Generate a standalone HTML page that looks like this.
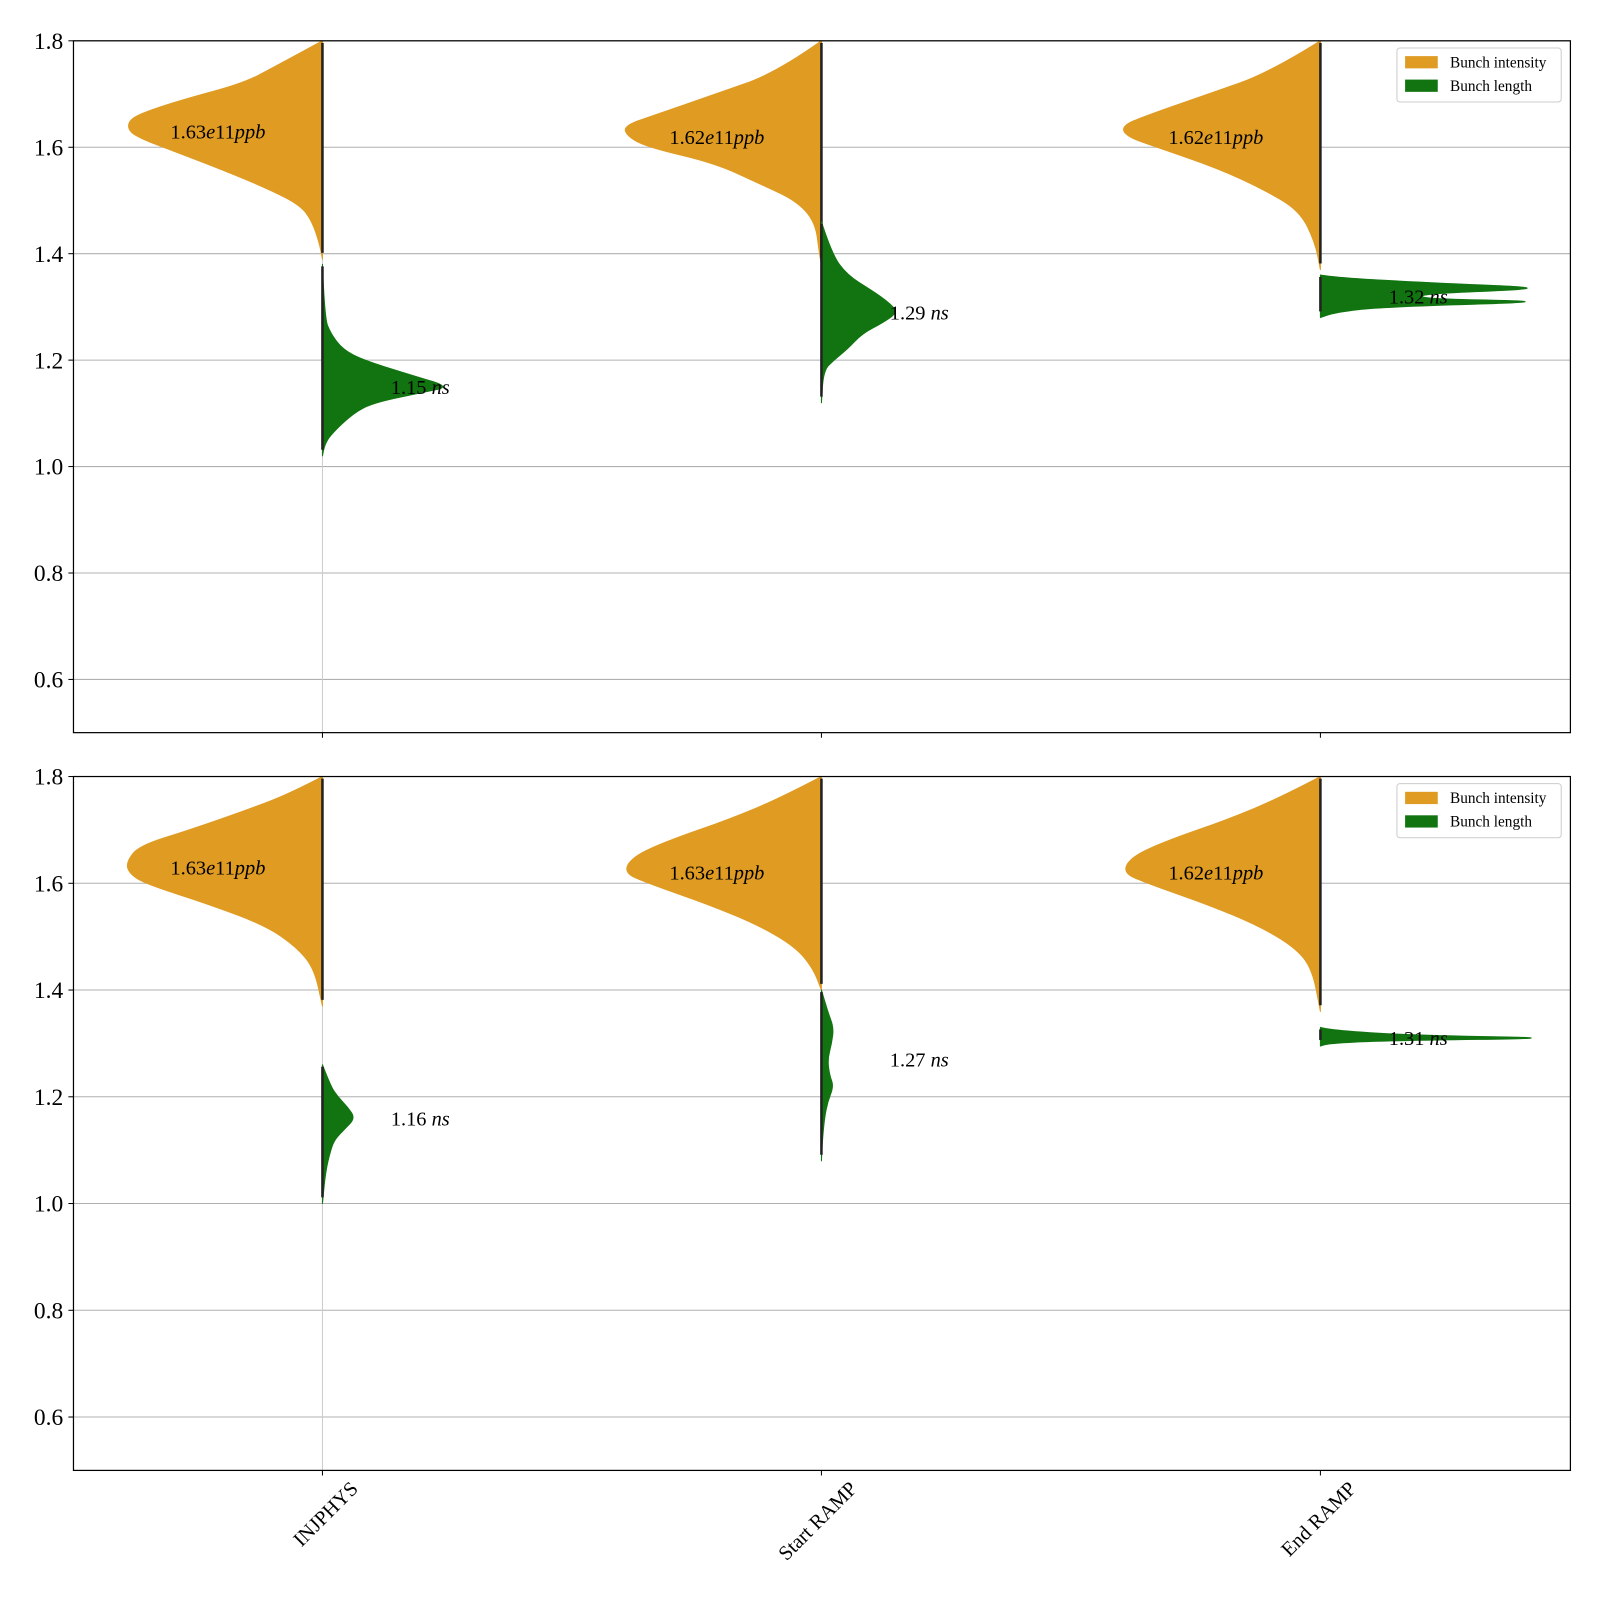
<!DOCTYPE html>
<html><head><meta charset="utf-8">
<style>
html,body{margin:0;padding:0;background:#fff;overflow:hidden;width:1600px;height:1600px;}
svg{display:block;font-family:"Liberation Serif",serif;}
</style></head>
<body>
<svg id="chart" width="1600" height="1600" viewBox="0 0 1568 1568" xmlns="http://www.w3.org/2000/svg"></svg>
<script>
const categories = ["INJPHYS", "Start RAMP", "End RAMP"];
const yTicks = [0.6, 0.8, 1.0, 1.2, 1.4, 1.6, 1.8];
// [value, relative width] profiles, panel 1
const p1Intensity = [
 [[1.8,0],[1.75,48],[1.72,78],[1.69,136],[1.665,176],[1.65,190],[1.63,190],[1.615,176],[1.6,156],[1.56,101],[1.52,51],[1.49,21],[1.46,10],[1.42,3],[1.39,0]],
 [[1.8,0],[1.74,44],[1.7,104],[1.66,164],[1.64,194],[1.62,190],[1.6,170],[1.57,104],[1.53,59],[1.5,25],[1.46,6],[1.4,2],[1.38,0]],
 [[1.8,0],[1.74,50],[1.7,110],[1.66,170],[1.64,195],[1.62,190],[1.6,160],[1.56,100],[1.52,55],[1.48,20],[1.42,5],[1.37,0]]
];
const p1Length = [
 [[1.38,0],[1.28,2],[1.25,8],[1.22,20],[1.2,40],[1.17,90],[1.15,125],[1.14,100],[1.12,50],[1.1,30],[1.06,8],[1.04,2],[1.02,0]],
 [[1.46,0],[1.4,10],[1.36,25],[1.33,50],[1.31,65],[1.29,75],[1.27,60],[1.25,40],[1.22,25],[1.2,12],[1.18,2],[1.12,0]],
 [[1.36,0],[1.355,15],[1.345,110],[1.335,235],[1.325,100],[1.315,100],[1.31,240],[1.3,60],[1.29,15],[1.28,0]]
];
const p2Intensity = [
 [[1.8,0],[1.77,30],[1.74,70],[1.7,130],[1.67,180],[1.64,192],[1.62,190],[1.6,175],[1.56,110],[1.52,55],[1.48,25],[1.44,8],[1.37,0]],
 [[1.8,0],[1.76,40],[1.72,90],[1.68,150],[1.65,185],[1.62,194],[1.6,170],[1.56,110],[1.52,60],[1.48,25],[1.44,8],[1.4,0]],
 [[1.8,0],[1.76,40],[1.72,90],[1.68,150],[1.65,185],[1.62,194],[1.6,170],[1.56,110],[1.52,60],[1.48,25],[1.44,8],[1.36,0]]
];
const p2Length = [
 [[1.26,0],[1.22,8],[1.2,15],[1.18,25],[1.16,32],[1.14,22],[1.12,12],[1.1,8],[1.06,3],[1.0,0]],
 [[1.4,0],[1.36,6],[1.33,12],[1.3,10],[1.27,6],[1.24,8],[1.22,12],[1.19,6],[1.16,3],[1.12,1],[1.08,0]],
 [[1.33,0],[1.325,8],[1.315,90],[1.31,250],[1.305,60],[1.3,8],[1.295,0]]
];
const p1IntLabels = ["1.63", "1.62", "1.62"];
const p1IntMeans = [1.63, 1.62, 1.62];
const p1LenLabels = ["1.15", "1.29", "1.32"];
const p1LenMeans = [1.15, 1.29, 1.32];
const p2IntLabels = ["1.63", "1.63", "1.62"];
const p2IntMeans = [1.63, 1.62, 1.62];
const p2LenLabels = ["1.16", "1.27", "1.31"];
const p2LenMeans = [1.16, 1.27, 1.31];

const NS = "http://www.w3.org/2000/svg";
const svg = document.getElementById("chart");
function mk(tag, attrs, parent) {
  const e = document.createElementNS(NS, tag);
  for (const k in attrs) e.setAttribute(k, attrs[k]);
  (parent || svg).appendChild(e);
  return e;
}
const X0 = 72, X1 = 1539;
const xPos = i => 316 + i * 489;
const panels = [
  {top: 40, bottom: 718, int: p1Intensity, len: p1Length, il: p1IntLabels, im: p1IntMeans, ll: p1LenLabels, lm: p1LenMeans},
  {top: 761, bottom: 1441, int: p2Intensity, len: p2Length, il: p2IntLabels, im: p2IntMeans, ll: p2LenLabels, lm: p2LenMeans}
];
panels.forEach((P, pi) => {
  const y = v => P.bottom - (v - 0.5) / 1.3 * (P.bottom - P.top);
  const g = mk("g", {});
  
  
  yTicks.forEach(t => {
    const l = mk("line", {x1: X0, x2: X1, y1: y(t), y2: y(t), stroke: "#b0b0b0", "stroke-width": 1}, g);
    
    
    mk("line", {x1: X0 - 5, x2: X0, y1: y(t), y2: y(t), stroke: "#000"}, g);
    const tx = mk("text", {x: X0 - 10, y: y(t) + 8, "text-anchor": "end", "font-size": 23}, g);
    tx.textContent = t.toFixed(1);
    
    
  });
  mk("line", {x1: xPos(0), x2: xPos(0), y1: y(1.8), y2: P.bottom, stroke: "#cccccc", "stroke-width": 1}, g);
  categories.forEach((c, i) => {
    const cx = xPos(i);
    const mkPath = (prof, dir, color, name) => {
      const pts = prof.map(p => [cx + dir * p[1], y(p[0])]);
      let d = "M" + cx + "," + pts[0][1] + " L" + pts[0][0] + "," + pts[0][1];
      for (let k = 1; k < pts.length - 1; k++) {
        const mx = (pts[k][0] + pts[k + 1][0]) / 2, my = (pts[k][1] + pts[k + 1][1]) / 2;
        d += " Q" + pts[k][0] + "," + pts[k][1] + " " + mx + "," + my;
      }
      const last = pts[pts.length - 1];
      d += " L" + last[0] + "," + last[1] + " L" + cx + "," + last[1] + " Z";
      const pth = mk("path", {d: d, fill: color, stroke: color, "stroke-width": 1, "stroke-linejoin": "round"}, g);
      
      
      const mline = mk("line", {x1: cx, x2: cx, y1: y(prof[0][0]) + 2, y2: y(prof[prof.length - 1][0]) - 6, stroke: "#222", "stroke-width": 2.5}, g);
      
      
    };
    mkPath(P.int[i], -1, "#df9b22", "violin-intensity-" + i);
    mkPath(P.len[i], 1, "#117411", "violin-length-" + i);
    const t1 = mk("text", {x: cx - 149, y: y(P.im[i]) + 7, "font-size": 20}, g);
    t1.innerHTML = P.il[i] + "<tspan font-style='italic'>e</tspan>11<tspan font-style='italic'>ppb</tspan>";
    
    
    const t2 = mk("text", {x: cx + 67, y: y(P.lm[i]) + 7, "font-size": 20}, g);
    t2.innerHTML = P.ll[i] + " <tspan font-style='italic'>ns</tspan>";
    
    
    mk("line", {x1: cx, x2: cx, y1: P.bottom, y2: P.bottom + 5, stroke: "#000"}, g);
  });
  const fr = mk("rect", {x: X0, y: P.top, width: X1 - X0, height: P.bottom - P.top, fill: "none", stroke: "#000", "stroke-width": 1.2}, g);
  
  
  const lg = mk("g", {}, g);
  
  
  mk("rect", {x: 1369, y: P.top + 7, width: 161, height: 53, rx: 3, fill: "#fff", "fill-opacity": 0.85, stroke: "#ccc"}, lg);
  [["Bunch intensity", "#df9b22"], ["Bunch length", "#117411"]].forEach((e, k) => {
    const ent = mk("g", {}, lg);
    
    
    mk("rect", {x: 1377, y: P.top + 15 + k * 23, width: 32, height: 12, fill: e[1]}, ent);
    const t = mk("text", {x: 1421, y: P.top + 26 + k * 23, "font-size": 15}, ent);
    t.textContent = e[0];
  });
});
categories.forEach((c, i) => {
  const cx = xPos(i);
  const t = mk("text", {x: 0, y: 0, "text-anchor": "end", "font-size": 20, transform: "translate(" + (cx + 36) + ",1460) rotate(-45)"});
  t.textContent = c;
  
  
});
</script>
</body></html>
